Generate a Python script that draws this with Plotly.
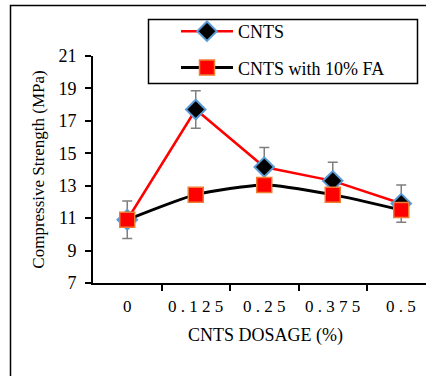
import plotly.graph_objects as go

categories = ["0", "0.125", "0.25", "0.375", "0.5"]
tick_labels = ["0", "0 . 1 2 5", "0 . 2 5", "0 . 3 7 5", "0 . 5"]
cnts = [10.9, 17.7, 14.15, 13.3, 11.9]
cnts_err = [1.15, 1.15, 1.2, 1.15, 1.15]
cnts_fa = [10.9, 12.45, 13.05, 12.45, 11.5]

FONT = "Liberation Serif, Times New Roman, serif"

x = list(range(len(categories)))

fig = go.Figure()
fig.add_trace(go.Scatter(
    x=x, y=cnts, name="CNTS", mode="lines+markers",
    line=dict(color="#ff0000", width=2.5),
    marker=dict(symbol="diamond", size=15, color="black",
                line=dict(color="#5b9bd5", width=2)),
    error_y=dict(type="data", array=cnts_err, visible=True,
                 color="#7f7f7f", thickness=1.5, width=5),
    legendgroup="a",
))
fig.add_trace(go.Scatter(
    x=x, y=cnts_fa, name="CNTS with 10% FA", mode="lines+markers",
    line=dict(color="black", width=3, shape="spline", smoothing=0.6),
    marker=dict(symbol="square", size=15, color="#ff0000",
                line=dict(color="#ed7d31", width=1.5)),
    legendgroup="b",
))

W, H = 426, 376
L, R, T, B = 93, 0, 56, 93
pw, ph = W - L - R, H - T - B
cat_w = 68.5

def px(xp):
    return (xp - L) / pw

def py(yp):
    return (H - B - yp) / ph

fig.update_layout(
    width=W, height=H,
    margin=dict(l=L, r=R, t=T, b=B, pad=0, autoexpand=False),
    paper_bgcolor="white", plot_bgcolor="white",
    font=dict(family=FONT, size=18, color="black"),
    showlegend=True,
    legend=dict(
        x=px(176), y=py(13), xanchor="left", yanchor="top",
        bgcolor="rgba(0,0,0,0)", borderwidth=0,
        font=dict(family=FONT, size=18, color="black"),
        tracegroupgap=10, traceorder="grouped",
        itemwidth=52,
    ),
    xaxis=dict(
        range=[-0.5, -0.5 + pw / cat_w],
        tickmode="array", tickvals=[0.5, 1.5, 2.5, 3.5, 4.5],
        ticktext=["", "", "", "", ""],
        ticks="outside", ticklen=6, tickwidth=2, tickcolor="black",
        showline=True, linecolor="black", linewidth=2,
        showgrid=False, zeroline=False,
    ),
    yaxis=dict(
        range=[7, 21], tickvals=[7, 9, 11, 13, 15, 17, 19, 21],
        ticks="outside", ticklen=6, tickwidth=2, tickcolor="black",
        showline=True, linecolor="black", linewidth=2,
        showgrid=False, zeroline=False,
        tickfont=dict(family=FONT, size=18),
        ticklabelstandoff=5,
        title=dict(text="Compressive Strength (MPa)", font=dict(family=FONT, size=17), standoff=9),
    ),
)

# category labels centred on each category
for i, lab in enumerate(tick_labels):
    fig.add_annotation(x=i, y=0, xref="x", yref="paper", yshift=-12,
                       text=lab, showarrow=False, yanchor="top",
                       font=dict(family=FONT, size=17))

# x axis title
fig.add_annotation(x=px(265), y=py(335), xref="paper", yref="paper",
                   text="CNTS DOSAGE (%)", showarrow=False,
                   xanchor="center", yanchor="middle",
                   font=dict(family=FONT, size=18))

# outer frame (cropped at right and bottom)
fig.add_shape(type="rect", xref="paper", yref="paper",
              x0=px(10.5), x1=px(440), y0=py(5.5), y1=py(390),
              line=dict(color="black", width=1.5), layer="below")
# legend box
fig.add_shape(type="rect", xref="paper", yref="paper",
              x0=px(148.5), x1=px(417.5), y0=py(19.5), y1=py(83.5),
              line=dict(color="black", width=1.5), fillcolor="white", layer="below")

fig.write_html("out.html",
               config={"displayModeBar": False},
               post_script="document.body.style.margin='0';document.body.style.overflow='hidden';")
